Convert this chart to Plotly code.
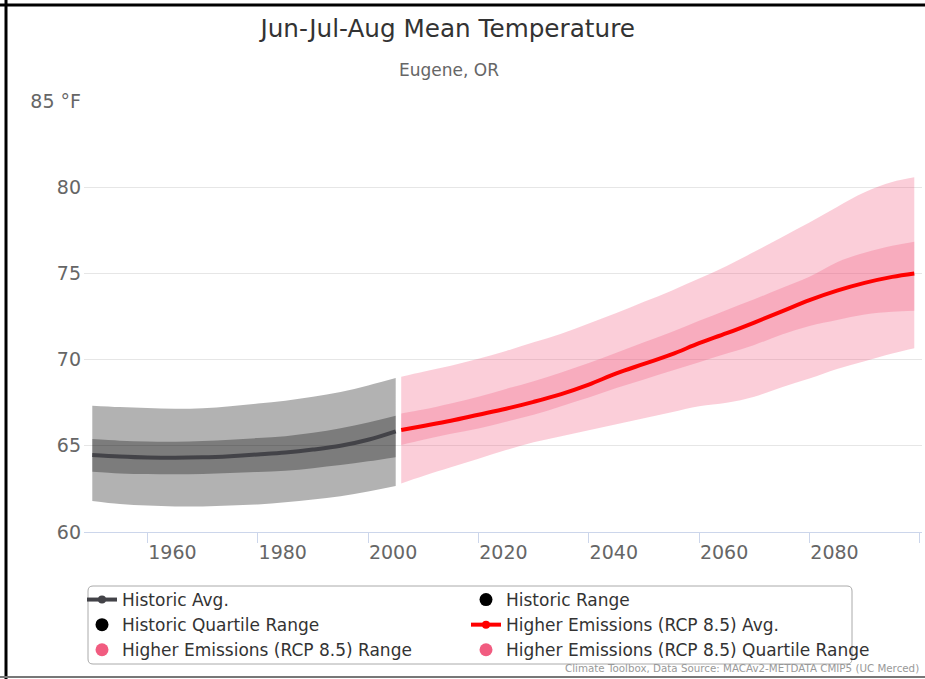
import plotly.graph_objects as go

# ---------------- data ----------------
hist_years = [1950, 1955, 1960, 1965, 1970, 1975, 1980, 1985, 1990, 1995, 2000, 2005]
hist_avg = [64.47, 64.38, 64.32, 64.30, 64.33, 64.40, 64.50, 64.61, 64.78, 65.00, 65.35, 65.84]
hist_range_hi = [67.33, 67.25, 67.19, 67.15, 67.18, 67.30, 67.45, 67.62, 67.85, 68.12, 68.50, 68.93]
hist_range_lo = [61.80, 61.62, 61.53, 61.48, 61.48, 61.53, 61.60, 61.72, 61.88, 62.08, 62.35, 62.67]
hist_q_hi = [65.39, 65.30, 65.25, 65.24, 65.28, 65.35, 65.45, 65.56, 65.75, 66.02, 66.35, 66.74]
hist_q_lo = [63.50, 63.40, 63.36, 63.35, 63.37, 63.42, 63.48, 63.55, 63.70, 63.88, 64.10, 64.34]

fut_years = [2006, 2010, 2015, 2020, 2025, 2030, 2035, 2040, 2045, 2050,
             2055, 2060, 2065, 2070, 2075, 2080, 2085, 2090, 2095, 2099]
fut_avg = [65.92, 66.15, 66.45, 66.80, 67.15, 67.55, 68.00, 68.55, 69.20, 69.75,
           70.30, 70.95, 71.53, 72.15, 72.80, 73.45, 74.00, 74.45, 74.80, 75.00]
fut_range_hi = [69.01, 69.30, 69.65, 70.05, 70.50, 71.00, 71.50, 72.10, 72.70, 73.35,
                74.00, 74.70, 75.43, 76.25, 77.10, 77.95, 78.85, 79.70, 80.30, 80.57]
fut_range_lo = [62.82, 63.25, 63.75, 64.25, 64.75, 65.20, 65.55, 65.90, 66.25, 66.60,
                66.95, 67.30, 67.50, 67.85, 68.40, 68.90, 69.45, 69.90, 70.35, 70.66]
fut_q_hi = [66.88, 67.10, 67.45, 67.85, 68.30, 68.75, 69.25, 69.80, 70.40, 71.00,
            71.60, 72.25, 72.88, 73.50, 74.15, 74.80, 75.65, 76.20, 76.60, 76.84]
fut_q_lo = [65.05, 65.35, 65.70, 66.01, 66.40, 66.80, 67.30, 67.80, 68.35, 68.85,
            69.35, 69.85, 70.35, 70.85, 71.45, 71.95, 72.30, 72.62, 72.78, 72.83]

x_tick_vals = [1960, 1980, 2000, 2020, 2040, 2060, 2080, 2100]
x_tick_text = ["1960", "1980", "2000", "2020", "2040", "2060", "2080", ""]
y_tick_vals = [60, 65, 70, 75, 80, 85]
y_tick_text = ["60", "65", "70", "75", "80", "85\u00a0°F"]

legend_names = ["Historic Avg.", "Historic Range", "Historic Quartile Range",
                "Higher Emissions (RCP 8.5) Avg.", "Higher Emissions (RCP 8.5) Range",
                "Higher Emissions (RCP 8.5) Quartile Range"]

# ---------------- styles ----------------
FONT = "DejaVu Sans"
GREY_FILL = "rgba(0,0,0,0.3)"
PINK_FILL = "rgba(241,92,128,0.3)"
HIST_LINE = "#434348"
FUT_LINE = "#ff0000"
PINK = "#f15c80"

# pixel geometry helpers (plot area: x 84..922, y 101..532)
PL, PR, PT, PB = 84, 922, 101, 532


def px(x):
    return (x - PL) / (PR - PL)


def py(y):
    return (PB - y) / (PB - PT)


fig = go.Figure()


def band(x, lo, hi, fill):
    fig.add_trace(go.Scatter(x=x, y=lo, mode="lines", line=dict(width=0, shape="spline"),
                             showlegend=False, hoverinfo="skip"))
    fig.add_trace(go.Scatter(x=x, y=hi, mode="lines", line=dict(width=0, shape="spline"),
                             fill="tonexty", fillcolor=fill, showlegend=False, hoverinfo="skip"))


band(hist_years, hist_range_lo, hist_range_hi, GREY_FILL)
band(hist_years, hist_q_lo, hist_q_hi, GREY_FILL)
band(fut_years, fut_range_lo, fut_range_hi, PINK_FILL)
band(fut_years, fut_q_lo, fut_q_hi, PINK_FILL)

fig.add_trace(go.Scatter(x=hist_years, y=hist_avg, mode="lines",
                         line=dict(color=HIST_LINE, width=4, shape="spline"), showlegend=False))
fig.add_trace(go.Scatter(x=fut_years, y=fut_avg, mode="lines",
                         line=dict(color=FUT_LINE, width=4, shape="spline"), showlegend=False))

# legend-only entries (Highcharts-like symbols), two columns
legend_styles = [
    dict(mode="lines+markers", line=dict(color=HIST_LINE, width=4), marker=dict(color=HIST_LINE, size=8)),
    dict(mode="markers", marker=dict(color="#000000", size=13)),
    dict(mode="markers", marker=dict(color="#000000", size=13)),
    dict(mode="lines+markers", line=dict(color=FUT_LINE, width=4), marker=dict(color=FUT_LINE, size=8)),
    dict(mode="markers", marker=dict(color=PINK, size=13)),
    dict(mode="markers", marker=dict(color=PINK, size=13)),
]
for i, (name, st) in enumerate(zip(legend_names, legend_styles)):
    fig.add_trace(go.Scatter(x=[None], y=[None], name=name, showlegend=True,
                             legend="legend" if i % 2 == 0 else "legend2", **st))

legend_common = dict(orientation="v", xanchor="left", yanchor="top", traceorder="normal",
                     borderwidth=0, bgcolor="rgba(0,0,0,0)",
                     font=dict(family=FONT, size=17, color="#333333"),
                     itemwidth=30, tracegroupgap=0)

# rounded legend box
bx0, bx1, by0, by1, r = 88, 852, 586, 664, 5
box_path = (f"M {px(bx0 + r)},{py(by0)} L {px(bx1 - r)},{py(by0)} "
            f"Q {px(bx1)},{py(by0)} {px(bx1)},{py(by0 + r)} "
            f"L {px(bx1)},{py(by1 - r)} Q {px(bx1)},{py(by1)} {px(bx1 - r)},{py(by1)} "
            f"L {px(bx0 + r)},{py(by1)} Q {px(bx0)},{py(by1)} {px(bx0)},{py(by1 - r)} "
            f"L {px(bx0)},{py(by0 + r)} Q {px(bx0)},{py(by0)} {px(bx0 + r)},{py(by0)} Z")

fig.update_layout(
    width=925, height=679,
    margin=dict(l=PL, r=925 - PR, t=PT, b=679 - PB),
    paper_bgcolor="white", plot_bgcolor="white",
    font=dict(family=FONT, color="#333333"),
    title=dict(text="Jun-Jul-Aug Mean Temperature", xref="container", yref="container",
               x=0.484, y=1 - 28 / 679, xanchor="center", yanchor="middle",
               font=dict(family=FONT, size=24.7, color="#333333")),
    showlegend=True,
    legend=dict(x=px(82), y=py(582), **legend_common),
    legend2=dict(x=px(466), y=py(582), **legend_common),
    xaxis=dict(range=[1948.5, 2100.4], tickvals=x_tick_vals, ticktext=x_tick_text,
               showgrid=False, zeroline=False, showline=True, linecolor="#ccd6eb", linewidth=1,
               ticks="outside", ticklen=10, tickcolor="#ccd6eb", tickwidth=1,
               ticklabelshift=25, ticklabelstandoff=-7,
               tickfont=dict(family=FONT, size=19, color="#666666")),
    yaxis=dict(range=[60, 85], tickvals=y_tick_vals, ticktext=y_tick_text,
               showgrid=True, gridcolor="#e6e6e6", gridwidth=1, zeroline=False,
               showline=False, ticks="", ticklabelstandoff=2,
               tickfont=dict(family=FONT, size=19, color="#666666")),
    annotations=[
        dict(text="Eugene, OR", xref="paper", yref="paper", x=px(449),
             y=py(70), xanchor="center", yanchor="middle", showarrow=False,
             font=dict(family=FONT, size=17, color="#666666")),
        dict(text="Climate Toolbox, Data Source: MACAv2-METDATA CMIP5 (UC Merced)",
             xref="paper", yref="paper", x=px(921), y=py(668),
             xanchor="right", yanchor="middle", showarrow=False,
             font=dict(family=FONT, size=10.3, color="#999999")),
    ],
    shapes=[
        dict(type="path", xref="paper", yref="paper", path=box_path,
             line=dict(color="#aaaaaa", width=1), fillcolor="rgba(0,0,0,0)", layer="below"),
        dict(type="line", xref="paper", yref="paper", x0=px(-10), x1=px(935),
             y0=py(5), y1=py(5), line=dict(color="black", width=3)),
        dict(type="line", xref="paper", yref="paper", x0=px(6), x1=px(6),
             y0=py(-10), y1=py(690), line=dict(color="black", width=3)),
        dict(type="line", xref="paper", yref="paper", x0=px(-10), x1=px(935),
             y0=py(677), y1=py(677), line=dict(color="#777777", width=2)),
    ],
)

fig.write_html("out.html", config={"displayModeBar": False},
               post_script="document.body.style.margin='0';document.body.style.overflow='hidden';")
